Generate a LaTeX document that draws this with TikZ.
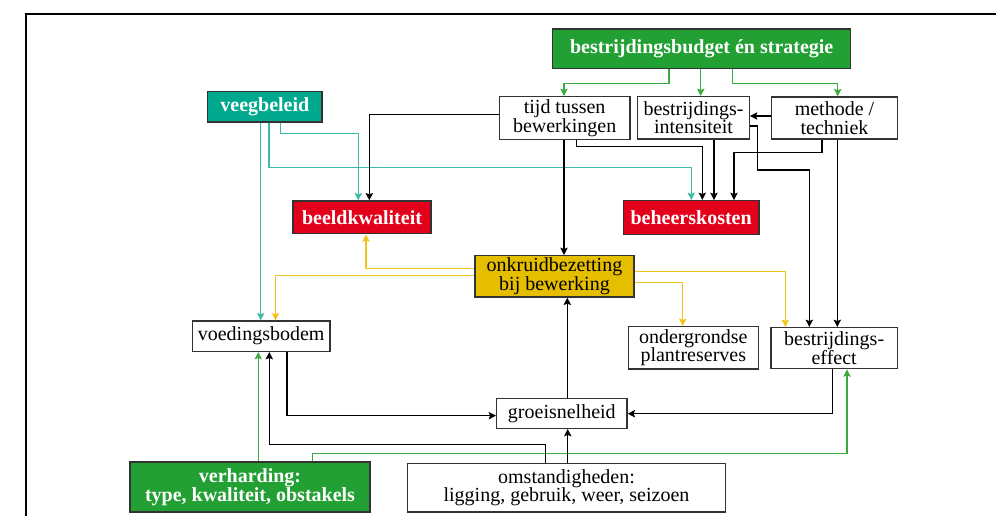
\documentclass[tikz,border=0pt]{standalone}
\usepackage{fontspec}
\setmainfont{Liberation Serif}
\usetikzlibrary{arrows.meta}
\definecolor{boxgreen}{HTML}{22A033}
\definecolor{linegreen}{HTML}{3BAA3F}
\definecolor{boxteal}{HTML}{00A88E}
\definecolor{lineteal}{HTML}{3DBBA6}
\definecolor{boxred}{HTML}{E2001A}
\definecolor{boxyellow}{HTML}{E6BE00}
\definecolor{lineyellow}{HTML}{F0C419}
\definecolor{edgegray}{HTML}{333333}
\begin{document}
\begin{tikzpicture}[x=0.75pt,y=-0.75pt,
  sz/.style 2 args={minimum width=#1*0.75pt, minimum height=#2*0.75pt},
  plainbox/.style={draw=edgegray, line width=1pt, fill=white, inner sep=0pt, align=center,
    font=\fontsize{15}{13.9}\selectfont},
  colbox/.style={draw=edgegray, line width=1pt, fill=#1, text=white, inner sep=0pt, align=center,
    font=\fontsize{15}{13.9}\selectfont\bfseries},
  yelbox/.style={draw=edgegray, line width=1pt, fill=boxyellow, text=black, inner sep=0pt, align=center,
    font=\fontsize{15}{13.9}\selectfont},
  conn/.style={line width=0.95pt, -{Stealth[length=5.5pt,width=5.5pt,inset=1pt]}},
  karr/.style={conn, draw=black},
  garr/.style={conn, draw=linegreen},
  tarr/.style={conn, draw=lineteal},
  yarr/.style={conn, draw=lineyellow}]
\useasboundingbox (0,0) rectangle (996,516);
\draw[line width=1.5pt] (26,516) -- (26,14) -- (996,14);

% nodes
\node[colbox=boxgreen, sz={298}{39.7}] (budget) at (701.7,48.85) {bestrijdingsbudget én strategie};
\node[plainbox, sz={130.7}{42.6}] (tijd) at (564.65,118) {tijd tussen\\bewerkingen};
\node[plainbox, sz={111.6}{42.3}] (intens) at (693.5,117.85) {bestrijdings-\\intensiteit};
\node[plainbox, sz={125.6}{42}] (methode) at (834.5,118) {methode /\\techniek};
\node[colbox=boxteal, sz={114.3}{30.3}] (veeg) at (264.85,106.85) {veegbeleid};
\node[colbox=boxred, sz={138}{32.7}] (beeld) at (362,217.35) {beeldkwaliteit};
\node[colbox=boxred, sz={135.7}{33.6}] (beheer) at (691.15,217.5) {beheerskosten};
\node[yelbox, sz={159}{41.3}] (onkruid) at (554.5,276.35) {onkruidbezetting\\bij bewerking};
\node[plainbox, sz={137.7}{30.3}] (voed) at (261.15,336.15) {voedingsbodem};
\node[plainbox, sz={130}{42.3}] (onder) at (693.3,347.85) {ondergrondse\\plantreserves};
\node[plainbox, sz={126.3}{41}] (effect) at (834.15,348.2) {bestrijdings-\\effect};
\node[plainbox, sz={130.3}{30}] (groei) at (561.85,413.3) {groeisnelheid};
\node[colbox=boxgreen, sz={240}{50}] (verh) at (250,487) {verharding:\\type, kwaliteit, obstakels};
\node[plainbox, sz={318.4}{48.3}] (omst) at (566.5,487.85) {omstandigheden:\\ligging, gebruik, weer, seizoen};

% green connectors
\draw[garr] (budget.south -| 669,0) -- (669,83.3) -| (tijd.north -| 564,0);
\draw[garr] (budget.south -| 700.7,0) -- (intens.north -| 700.7,0);
\draw[garr] (budget.south -| 732.7,0) -- (732.7,83.3) -| (methode.north -| 837.7,0);
\draw[garr] (verh.north -| 258.3,0) -- (voed.south -| 258.3,0);
\draw[garr] (verh.north -| 312.7,0) -- (312.7,453.3) -| (effect.south -| 847,0);

% teal connectors
\draw[tarr] (veeg.south -| 260.7,0) -- (voed.north -| 260.7,0);
\draw[tarr] (veeg.south -| 269,0) -- (269,167.7) -| (beheer.north -| 691.3,0);
\draw[tarr] (veeg.south -| 280.7,0) -- (280.7,133.3) -| (beeld.north -| 358.3,0);

% black connectors
\draw[karr] (tijd.west |- 0,114.3) -- (369.3,114.3) -- (beeld.north -| 369.3,0);
\draw[karr] (tijd.south -| 564,0) -- (onkruid.north -| 564,0);
\draw[karr] (tijd.south -| 576.7,0) -- (576.7,146.7) -| (beheer.north -| 702.3,0);
\draw[karr] (intens.south -| 714,0) -- (beheer.north -| 714,0);
\draw[karr] (intens.east |- 0,126) -- (757.7,126) -- (757.7,170) -| (effect.north -| 809.3,0);
\draw[karr] (methode.west |- 0,116) -- (intens.east |- 0,116);
\draw[karr] (methode.south -| 822,0) -- (822,152.7) -| (beheer.north -| 734,0);
\draw[karr] (methode.south -| 837.3,0) -- (effect.north -| 837.3,0);
\draw[karr] (voed.south -| 287,0) |- (groei.west |- 0,415.7);
\draw[karr] (omst.north -| 545.3,0) -- (545.3,444.3) -| (voed.south -| 269.3,0);
\draw[karr] (omst.north -| 567.7,0) -- (groei.south -| 567.7,0);
\draw[karr] (groei.north -| 567.3,0) -- (onkruid.south -| 567.3,0);
\draw[karr] (effect.south -| 832.3,0) |- (groei.east |- 0,413.7);

% yellow connectors
\draw[yarr] (onkruid.west |- 0,268.3) -| (beeld.south -| 366,0);
\draw[yarr] (onkruid.west |- 0,275.7) -| (voed.north -| 275.5,0);
\draw[yarr] (onkruid.east |- 0,271.7) -| (effect.north -| 785.3,0);
\draw[yarr] (onkruid.east |- 0,282.7) -| (onder.north -| 682.7,0);
\end{tikzpicture}
\end{document}
